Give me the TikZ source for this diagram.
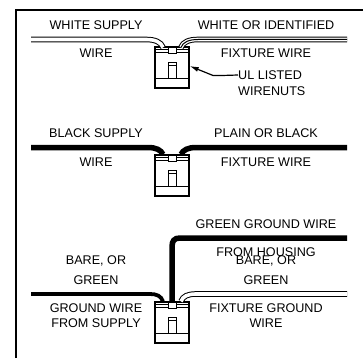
\documentclass[tikz,border=0pt]{standalone}
\usepackage{fontspec}
\setmainfont{Liberation Sans}
\usetikzlibrary{arrows.meta}
\tikzstyle{lbl}=[inner sep=0pt,font=\fontsize{12.6}{14}\selectfont]
\tikzstyle{nut}=[draw,line width=1.3pt,fill=white,minimum width=34pt,minimum height=41pt,inner sep=0pt]
\tikzstyle{nutline}=[draw,line width=1pt]
\tikzstyle{thinwire}=[draw,line width=1pt,double=white,double distance=3.6pt]
\tikzstyle{heavywire}=[draw,line width=5.5pt]
\tikzstyle{midwire}=[draw,line width=3.8pt]
% name, centre
\newcommand{\wirenut}[2]{
    \node[nut] (#1) at #2 {};
    \coordinate (#1l) at ([xshift=-9pt]#1.north);
    \coordinate (#1r) at ([xshift=9pt]#1.north);
    \coordinate (#1c) at (#1.north);
    \path[nutline] ([yshift=-3pt]#1.north west) -- ([xshift=-4pt,yshift=-3pt]#1.north);
    \path[nutline] ([yshift=-6pt]#1.north west) -- ([xshift=-4pt,yshift=-6pt]#1.north);
    \path[nutline] ([yshift=-3pt]#1.north east) -- ([xshift=4pt,yshift=-3pt]#1.north);
    \path[nutline] ([yshift=-6pt]#1.north east) -- ([xshift=4pt,yshift=-6pt]#1.north);
    \path[nutline] ([xshift=-4pt]#1.north) -- ([xshift=-4pt,yshift=-7pt]#1.north) -- ([xshift=4pt,yshift=-7pt]#1.north) -- ([xshift=4pt]#1.north);
    \path[nutline] ([yshift=10pt]#1.south west) -- ([yshift=10pt]#1.south east);
    \path[nutline] ([xshift=-4pt,yshift=10pt]#1.south) -- ([xshift=-4pt,yshift=26pt]#1.south) -- ([xshift=4pt,yshift=26pt]#1.south) -- ([xshift=4pt,yshift=10pt]#1.south);
    \path[nutline] ([xshift=-4pt,yshift=23pt]#1.south) -- ([xshift=4pt,yshift=23pt]#1.south);
}

\begin{document}
\begin{tikzpicture}[x=1pt,y=-1pt]
    \useasboundingbox (0,0) rectangle (363,358);
    \draw[line width=2pt] (16,358) -- (16,10) -- (363,10);

    % wires first, the nuts cover their ends
    \wirenut{nuta}{(172,67.5)}
    \wirenut{nutb}{(172,175.5)}
    \wirenut{nutc}{(172,322.5)}
    \foreach \name/\y in {wa/39.5, wb/147.5, wc/294}
        \coordinate (\name) at (31,\y);
    \foreach \name/\y in {ea/39.5, eb/147.5, ec/294, ed/238}
        \coordinate (\name) at (347,\y);

    \path[thinwire] (wa) -- (146,39.5) .. controls (155,39.5) and (161,42) .. ([yshift=-1pt]nutal);
    \path[thinwire] (ea) -- (198,39.5) .. controls (189,39.5) and (183,42) .. ([yshift=-1pt]nutar);
    \path[draw,line width=1pt] (ea) -- (198,39.5) .. controls (189,39.5) and (183,42) .. ([yshift=-1pt]nutar);
    \path[heavywire] (wb) -- (148,147.5) .. controls (156,147.5) and (161,150) .. (nutbl);
    \path[heavywire] (eb) -- (196,147.5) .. controls (188,147.5) and (183,150) .. (nutbr);
    \path[midwire] (wc) -- (150,294) .. controls (157,294) and (161,296) .. (nutcl);
    \path[thinwire] (ec) -- (196,294) .. controls (188,294) and (183,296) .. (nutcr);
    \path[heavywire] (ed) -- (180,238) .. controls (174,238) and (172,241) .. (172,247) -- (nutcc);

    \node[lbl] (whitesup) at (96,25) {WHITE SUPPLY};
    \node[lbl] (whitewire) at (96,53) {WIRE};
    \node[lbl] (whitefix) at (266,25) {WHITE OR IDENTIFIED};
    \node[lbl] (whitefixb) at (266,53) {FIXTURE WIRE};
    \node[lbl,anchor=west] (ul) at (238,75) {UL LISTED};
    \node[lbl,anchor=west] (ulb) at (238,91) {WIRENUTS};
    \draw[line width=1.2pt,-{Latex[length=9pt,width=5pt]}] (ul.west) -- (222,75.5) -- (213,75.5) -- (nuta.east |- 0,66);

    \node[lbl] (blacksup) at (96,133) {BLACK SUPPLY};
    \node[lbl] (blackwire) at (96,162) {WIRE};
    \node[lbl] (blackfix) at (266,133) {PLAIN OR BLACK};
    \node[lbl] (blackfixb) at (266,162) {FIXTURE WIRE};

    \node[lbl] (greenhead) at (266,224) {GREEN GROUND WIRE};
    \node[lbl] (greenheadb) at (266,252) {FROM HOUSING};
    \node[lbl] (barel) at (96,261) {BARE, OR};
    \node[lbl] (barelb) at (96,280) {GREEN};
    \node[lbl] (barer) at (266,261) {BARE, OR};
    \node[lbl] (barerb) at (266,280) {GREEN};
    \node[lbl] (gnd) at (96,308) {GROUND WIRE};
    \node[lbl] (gndb) at (96,323) {FROM SUPPLY};
    \node[lbl] (fixgnd) at (266,308) {FIXTURE GROUND};
    \node[lbl] (fixgndb) at (266,323) {WIRE};
\end{tikzpicture}
\end{document}
